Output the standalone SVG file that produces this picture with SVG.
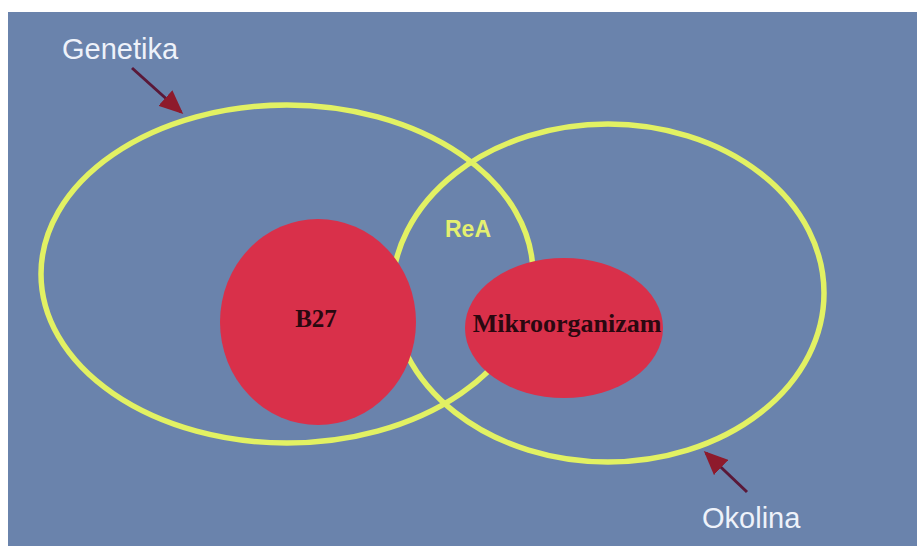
<svg xmlns="http://www.w3.org/2000/svg" width="917" height="546" viewBox="0 0 917 546">
<style>
.ring{fill:none;stroke:#e2f163;stroke-width:5.5}
.blob{fill:#d9304a}
.lbl{font-family:"Liberation Sans",Arial,sans-serif;font-size:29px;fill:#eef2fa}
.inner{font-family:"Liberation Serif","Times New Roman",serif;font-weight:bold;fill:#2a0810;text-anchor:middle}
.arr{stroke:#5a1838;stroke-width:3;fill:none}
</style>
<defs>
<marker id="ah" markerWidth="8" markerHeight="7" refX="7" refY="3.5" orient="auto" markerUnits="strokeWidth">
<path d="M0,0 L8,3.5 L0,7 Z" fill="#8e1a2c"/>
</marker>
</defs>
<rect x="0" y="0" width="917" height="546" fill="#ffffff"/>
<rect x="8" y="12" width="909" height="534" fill="#6a83ac"/>
<g id="genetika">
<ellipse class="ring" cx="287" cy="274" rx="246" ry="169"/>
<text class="lbl" x="62" y="59">Genetika</text>
</g>
<g id="okolina">
<ellipse class="ring" cx="608" cy="293" rx="216" ry="169"/>
<text class="lbl" x="702" y="528">Okolina</text>
</g>
<g id="rea">
<text x="468" y="237" font-family="Liberation Sans,Arial,sans-serif" font-weight="bold" font-size="23" fill="#e4f070" text-anchor="middle">ReA</text>
</g>
<g id="b27">
<ellipse class="blob" cx="318" cy="322" rx="98" ry="103"/>
<text class="inner" x="316" y="327" font-size="25">B27</text>
</g>
<g id="mikroorganizam">
<ellipse class="blob" cx="564" cy="328" rx="99" ry="70"/>
<text class="inner" x="567" y="332" font-size="26">Mikroorganizam</text>
</g>
<g id="connectors">
<line class="arr" x1="132" y1="68" x2="181" y2="112" marker-end="url(#ah)"/>
<line class="arr" x1="747" y1="492" x2="706" y2="453" marker-end="url(#ah)"/>
</g>
</svg>
